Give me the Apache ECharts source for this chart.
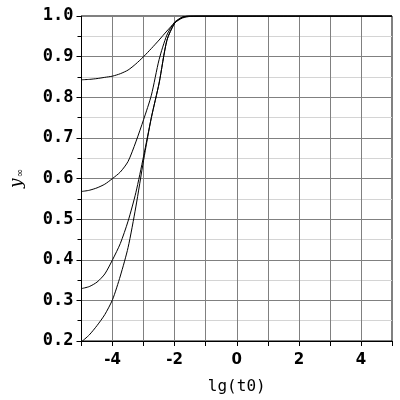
<!DOCTYPE html>
<html>
<head>
<meta charset="utf-8">
<script src="https://cdn.jsdelivr.net/npm/echarts@6/dist/echarts.min.js"></script>
<style>
  html, body { margin: 0; padding: 0; background: #fff; }
  #chart { width: 400px; height: 400px; }
</style>
</head>
<body>
<div id="chart"></div>
<script>
// lg(t0) sample points shared by all curves
const xs = [-5, -4.75, -4.5, -4.25, -4, -3.75, -3.5, -3.25, -3, -2.75, -2.5, -2.25, -2, -1.75, -1.5, -1, 0, 1, 2, 3, 4, 5];

// y_inf for each curve
const curve1 = [0.843, 0.844, 0.846, 0.849, 0.852, 0.858, 0.867, 0.882, 0.900, 0.920, 0.941, 0.963, 0.983, 0.995, 0.999, 1, 1, 1, 1, 1, 1, 1];
const curve2 = [0.568, 0.571, 0.577, 0.586, 0.600, 0.616, 0.642, 0.690, 0.745, 0.805, 0.893, 0.953, 0.985, 0.997, 1, 1, 1, 1, 1, 1, 1, 1];
const curve3 = [0.329, 0.334, 0.345, 0.365, 0.400, 0.440, 0.495, 0.565, 0.655, 0.750, 0.835, 0.940, 0.982, 0.997, 1, 1, 1, 1, 1, 1, 1, 1];
const curve4 = [0.198, 0.215, 0.238, 0.265, 0.302, 0.360, 0.430, 0.530, 0.645, 0.750, 0.835, 0.940, 0.982, 0.997, 1, 1, 1, 1, 1, 1, 1, 1];

const curves = [curve1, curve2, curve3, curve4];

const chart = echarts.init(document.getElementById('chart'), null, { renderer: 'canvas' });

const makeSeries = (ys) => ({
    type: 'line',
    data: xs.map((x, i) => [x, ys[i]]),
    showSymbol: false,
    smooth: 0.25,
    lineStyle: { color: '#000', width: 1 },
    clip: true,
});

chart.setOption({
    animation: false,
    backgroundColor: '#fff',
    grid: {
        left: 80, right: 8, top: 16, bottom: 54,
        show: true, borderColor: '#000', borderWidth: 1,
    },
    xAxis: {
        type: 'value',
        min: -5, max: 5, interval: 1,
        name: 'lg(t0)',
        nameLocation: 'middle',
        nameGap: 38,
        nameTextStyle: { color: '#000', fontFamily: 'DejaVu Sans Mono', fontSize: 16 },
        axisLine: { onZero: false, lineStyle: { color: '#000', width: 1 } },
        axisTick: { show: true, length: 5, lineStyle: { color: '#000' } },
        axisLabel: {
            color: '#000', fontFamily: 'DejaVu Sans', fontWeight: 'bold', fontSize: 15, margin: 12,
            formatter: (v) => (v % 2 === 0 ? String(v) : ''),
        },
        splitLine: { show: true, lineStyle: { color: '#808080', width: 1 } },
    },
    yAxis: {
        type: 'value',
        min: 0.2, max: 1.0, interval: 0.1,
        name: '{y|y}{s|∞}',
        nameLocation: 'middle',
        nameGap: 56,
        nameRotate: 90,
        nameTextStyle: {
            rich: {
                y: { fontFamily: 'DejaVu Serif', fontStyle: 'italic', fontSize: 17, color: '#000' },
                s: { fontFamily: 'DejaVu Sans', fontSize: 10, color: '#000', verticalAlign: 'bottom', padding: [8, 0, 0, 1] },
            },
        },
        axisLine: { show: true, onZero: false, lineStyle: { color: '#000', width: 1 } },
        axisTick: { show: true, length: 5, lineStyle: { color: '#000' } },
        minorTick: { show: true, splitNumber: 2, length: 4, lineStyle: { color: '#000' } },
        axisLabel: {
            color: '#000', fontFamily: 'DejaVu Sans Mono', fontWeight: 'bold', fontSize: 17, margin: 8,
            formatter: (v) => v.toFixed(1),
        },
        splitLine: { show: true, lineStyle: { color: '#808080', width: 1 } },
        minorSplitLine: { show: true, lineStyle: { color: '#d4d4d4', width: 1 } },
    },
    series: curves.map(makeSeries),
});
</script>
</body>
</html>
